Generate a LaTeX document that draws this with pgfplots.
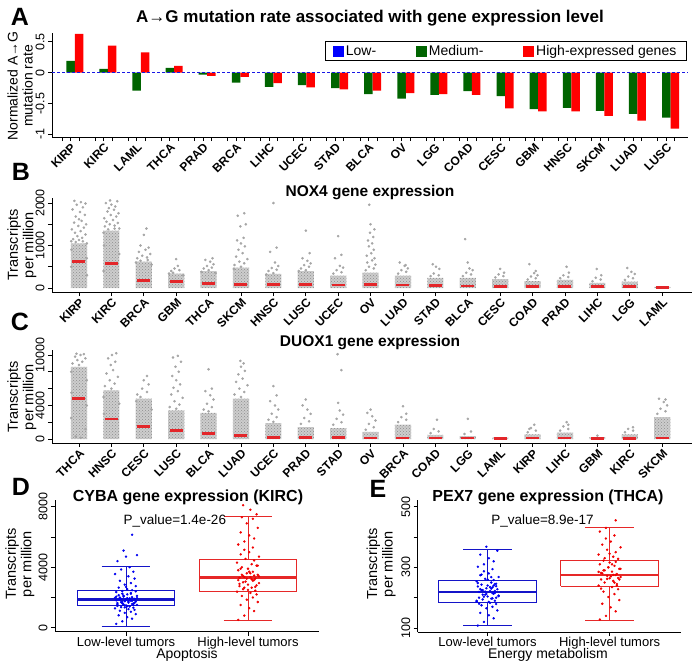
\documentclass[border=0pt]{standalone}
\usepackage{fontspec}
\setmainfont{Liberation Sans}
\usepackage{pgfplots}
\pgfplotsset{compat=1.18}
\usetikzlibrary{patterns}
\definecolor{dkgreen}{HTML}{006400}
\definecolor{barred}{HTML}{FF0000}
\definecolor{barblue}{HTML}{0000FF}
\definecolor{dotgray}{HTML}{A6A6A6}
\definecolor{bodygray}{HTML}{CDCDCD}
\definecolor{medred}{HTML}{E3262A}
\definecolor{boxblue}{HTML}{1414C8}
\definecolor{ptblue}{HTML}{0000F0}
\definecolor{boxred}{HTML}{E62828}
\definecolor{ptred}{HTML}{F00000}
\newcommand{\fs}[1]{\fontsize{#1}{#1}\selectfont}

\pgfplotsset{
  panel/.style={
    scale only axis, anchor=south west,
    axis x line*=bottom, axis y line*=left,
    axis line style={line width=0.8pt, black},
    tick align=outside, major tick length=4pt,
    tick style={line width=0.8pt, black},
    scaled y ticks=false,
    yticklabel style={rotate=90, anchor=south, font=\fs{12.5}},
  },
  catlabels/.style={
    xticklabel style={rotate=45, anchor=north east, font=\bfseries\fs{12}, inner sep=1pt},
  },
  cloud/.style={only marks, mark=*, mark size=1.1pt, color=dotgray},
  body/.style={ybar, bar width=0.5, bar shift=0pt, fill=bodygray, draw=none,
    postaction={pattern=crosshatch dots, pattern color=dotgray!85!black}},
  med/.style={only marks, mark=-, mark size=6.5pt, color=medred, mark options={line width=2.6pt}},
  boxline/.style={line width=0.8pt, no marks},
  medline/.style={line width=2.6pt, no marks},
}

\begin{document}
\begin{tikzpicture}
\path[use as bounding box] (0pt,0pt) rectangle (699pt,-664pt);

% ---------------- A ----------------
\node[font=\bfseries\fs{25}] at (20pt,-17pt) {A};
\node[font=\bfseries\fs{17}] at (370pt,-18pt) {A→G mutation rate associated with gene expression level};
\node[font=\fs{14}, rotate=90, align=center] at (20pt,-86pt) {Normalized A→G\\[1pt]mutation rate};
\begin{axis}[panel, catlabels,
  at={(52pt,-137pt)}, width=636pt, height=104pt,
  xmin=0.441, xmax=19.655, ymin=-1.044, ymax=0.644,
  ytick={-1,-0.5,0,0.5}, yticklabels={-1,-0.5,0,0.5},
  xtick={1,...,19},
  xticklabels={KIRP,KIRC,LAML,THCA,PRAD,BRCA,LIHC,UCEC,STAD,BLCA,OV,LGG,COAD,CESC,GBM,HNSC,SKCM,LUAD,LUSC},
  extra x ticks={0.743,1.257,1.743,2.257,2.743,3.257,3.743,4.257,4.743,5.257,5.743,6.257,6.743,7.257,7.743,8.257,8.743,9.257,9.743,10.257,10.743,11.257,11.743,12.257,12.743,13.257,13.743,14.257,14.743,15.257,15.743,16.257,16.743,17.257,17.743,18.257,18.743,19.257},
  extra x tick labels={},
  legend columns=3,
  legend style={at={(0.998,0.92)}, anchor=north east, draw=black, line width=0.8pt,
    font=\fs{14}, inner xsep=8pt, inner ysep=1.5pt,
    /tikz/every even column/.append style={column sep=38pt}},
]
\addlegendimage{legend image code/.code={\fill[barblue] (0pt,-5pt) rectangle (10pt,5pt);}}
\addlegendentry{Low-}
\addlegendimage{legend image code/.code={\fill[dkgreen] (0pt,-5pt) rectangle (10pt,5pt);}}
\addlegendentry{Medium-}
\addlegendimage{legend image code/.code={\fill[barred] (0pt,-5pt) rectangle (10pt,5pt);}}
\addlegendentry{High-expressed genes}
% medium-expressed genes
\addplot[ybar, bar width=0.257, bar shift=0pt, fill=dkgreen, draw=none, forget plot] coordinates {
 (1,0.19) (2,0.06) (3,-0.29) (4,0.08) (5,-0.03) (6,-0.16) (7,-0.23) (8,-0.20) (9,-0.25) (10,-0.35)
 (11,-0.42) (12,-0.36) (13,-0.30) (14,-0.38) (15,-0.59) (16,-0.57) (17,-0.62) (18,-0.67) (19,-0.73)};
% high-expressed genes
\addplot[ybar, bar width=0.257, bar shift=0pt, fill=barred, draw=none, forget plot] coordinates {
 (1.257,0.63) (2.257,0.44) (3.257,0.33) (4.257,0.11) (5.257,-0.05) (6.257,-0.07) (7.257,-0.17)
 (8.257,-0.24) (9.257,-0.27) (10.257,-0.29) (11.257,-0.33) (12.257,-0.35) (13.257,-0.36)
 (14.257,-0.58) (15.257,-0.63) (16.257,-0.63) (17.257,-0.70) (18.257,-0.78) (19.257,-0.91)};
% low-expressed genes (reference level, all zero)
\addplot[barblue!80!gray, line width=0.7pt, dash pattern=on 3pt off 2pt, forget plot] coordinates {(0.441,0) (19.655,0)};
\end{axis}

% ---------------- B ----------------
\node[font=\bfseries\fs{25}] at (21pt,-172pt) {B};
\node[font=\bfseries\fs{15.5}] at (370pt,-193pt) {NOX4 gene expression};
\node[font=\fs{14.5}, rotate=90, align=center] at (22pt,-245pt) {Transcripts\\[1pt]per million};
\begin{axis}[panel, catlabels,
  at={(52pt,-292pt)}, width=640pt, height=94pt,
  xmin=0.167, xmax=19.92, ymin=-94, ymax=2118,
  ytick={0,500,1000,1500,2000}, yticklabels={0,{},1000,{},2000},
  xtick={1,...,19},
  xticklabels={KIRP,KIRC,BRCA,GBM,THCA,SKCM,HNSC,LUSC,UCEC,OV,LUAD,STAD,BLCA,CESC,COAD,PRAD,LIHC,LGG,LAML},
]
\addplot[body] coordinates {(1,1050) (2,1350) (3,620) (4,340) (5,400) (6,480) (7,330) (8,400) (9,290) (10,360)
 (11,290) (12,240) (13,240) (14,210) (15,160) (16,190) (17,120) (18,150) (19,25)};
\addplot[cloud] coordinates {
 (0.82,1150) (1.1,1180) (0.95,1220) (1.2,1260) (0.88,1300) (1.05,1340) (0.78,1380) (1.15,1420) (0.98,1460)
 (1.22,1500) (0.85,1540) (1.08,1580) (1.0,1620) (0.9,1680) (1.18,1720) (1.03,1790) (0.8,1850) (1.12,1900)
 (0.93,1960) (1.06,2020) (0.86,2050) (1.2,1990) (0.76,1100) (1.24,1050) (0.77,900) (1.24,700) (0.76,500) (1.25,300)
 (0.9,1080) (1.12,1100) (1.0,1130)
 (1.8,1450) (2.1,1470) (1.95,1500) (2.2,1530) (1.85,1560) (2.05,1600) (1.78,1640) (2.15,1680) (1.98,1720)
 (2.22,1760) (1.88,1800) (2.08,1840) (1.92,1880) (2.12,1920) (2.0,1960) (1.83,2000) (2.18,2040) (1.96,2060)
 (2.24,1400) (1.76,1300) (1.77,1000) (2.24,800) (1.76,400) (1.9,1380) (2.1,1400)
 (2.8,700) (3.1,720) (2.95,760) (3.2,800) (2.85,850) (3.05,900) (3.15,950) (2.9,1000) (3.0,1250) (3.08,1400) (2.76,600) (3.24,550)
 (2.9,640) (3.12,660)
 (3.85,400) (4.1,420) (3.95,460) (4.05,520) (4.0,680) (3.78,340) (4.22,300) (3.9,360)
 (4.85,460) (5.1,480) (4.95,520) (5.15,560) (5.05,620) (4.9,660) (5.12,700) (4.78,380) (5.22,350) (5.0,420)
 (5.8,540) (6.1,580) (5.95,620) (6.2,680) (5.85,740) (6.05,820) (5.92,900) (6.12,980) (6.0,1050) (5.88,1120)
 (6.08,1180) (5.98,1450) (6.15,1500) (5.9,1700) (6.1,1760) (5.78,450) (6.0,500)
 (6.85,400) (7.1,430) (6.95,470) (7.15,520) (7.05,600) (6.9,850) (7.1,950) (7.0,2000) (6.78,320) (7.0,350)
 (7.85,460) (8.1,500) (7.95,540) (8.15,580) (8.05,640) (7.9,700) (8.12,820) (8.0,1350) (7.78,400) (8.0,420)
 (8.85,340) (9.1,370) (8.95,420) (9.15,480) (9.05,520) (8.9,700) (9.1,780) (9.0,1220)
 (9.85,420) (10.1,460) (9.95,500) (10.15,550) (9.9,600) (10.05,650) (10.12,700) (9.88,760) (10.02,820)
 (10.1,900) (9.95,980) (10.05,1050) (9.92,1120) (10.08,1200) (9.98,1300) (10.12,1380) (10.0,1500) (9.96,1960)
 (10.85,340) (11.1,380) (10.95,420) (11.15,460) (11.05,520) (10.9,600) (11.08,540)
 (11.85,280) (12.1,300) (11.95,340) (12.12,450) (12.02,500) (11.92,560)
 (12.85,280) (13.1,320) (12.95,360) (13.15,420) (13.05,460) (13.0,600) (12.92,1150)
 (13.85,250) (14.1,280) (13.95,320) (14.12,360) (14.0,450)
 (14.85,200) (15.1,230) (14.95,270) (15.15,300) (15.05,350) (15.1,400) (14.9,560)
 (15.85,230) (16.1,260) (15.95,300) (16.12,360) (16.05,500)
 (16.85,160) (17.1,200) (16.95,240) (17.12,300) (16.98,450)
 (17.85,190) (18.1,230) (17.95,270) (18.15,330) (18.05,380) (17.92,470)};
\addplot[med] coordinates {(1,630) (2,570) (3,172) (4,148) (5,110) (6,86) (7,80) (8,85) (9,75) (10,80)
 (11,70) (12,55) (13,45) (14,40) (15,35) (16,35) (17,30) (18,35) (19,5)};
\end{axis}

% ---------------- C ----------------
\node[font=\bfseries\fs{25}] at (20pt,-322pt) {C};
\node[font=\bfseries\fs{15.5}] at (370pt,-343pt) {DUOX1 gene expression};
\node[font=\fs{14.5}, rotate=90, align=center] at (22pt,-397pt) {Transcripts\\[1pt]per million};
\begin{axis}[panel, catlabels,
  at={(52pt,-443pt)}, width=640pt, height=93pt,
  xmin=0.167, xmax=19.92, ymin=-476, ymax=10595,
  ytick={0,2000,4000,6000,8000,10000}, yticklabels={0,{},4000,{},{},10000},
  xtick={1,...,19},
  xticklabels={THCA,HNSC,CESC,LUSC,BLCA,LUAD,UCEC,PRAD,STAD,OV,BRCA,COAD,LGG,LAML,KIRP,LIHC,GBM,KIRC,SKCM},
]
\addplot[body] coordinates {(1,8600) (2,5800) (3,4800) (4,3400) (5,3100) (6,4800) (7,1900) (8,1400) (9,1300) (10,850)
 (11,1700) (12,480) (13,330) (14,150) (15,560) (16,750) (17,200) (18,560) (19,2600)};
\addplot[cloud] coordinates {
 (0.8,9000) (1.1,9200) (0.95,9400) (1.2,9600) (0.88,9800) (1.05,10000) (1.15,10100) (0.92,10150)
 (0.76,8000) (1.24,7000) (0.77,5500) (1.24,4000) (0.76,2500) (1.2,1200) (0.9,300) (1.05,150) (1.0,8800)
 (1.8,6300) (2.1,6600) (1.95,7000) (2.2,7400) (1.85,7800) (2.05,8200) (1.98,8800) (2.12,9200) (1.9,9600) (2.02,10000) (2.15,10200)
 (1.76,5000) (2.24,4200) (1.77,3000) (2.0,6000)
 (2.8,5300) (3.1,5600) (2.95,6000) (3.15,6500) (3.0,7000) (3.1,7500) (2.77,4500) (3.24,3500) (2.9,5000)
 (3.8,3800) (4.1,4100) (3.95,4500) (4.2,4900) (3.85,5300) (4.05,5700) (3.92,6100) (4.12,6500) (4.0,7000)
 (3.88,7500) (4.08,8000) (3.98,8600) (4.15,9200) (3.9,9700) (4.05,9900) (4.0,3600)
 (4.85,3500) (5.1,3800) (4.95,4200) (5.15,4700) (5.05,5200) (4.9,5700) (5.1,6000) (5.0,8300) (5.0,3300)
 (5.8,5300) (6.1,5600) (5.95,6000) (6.2,6400) (5.85,6800) (6.05,7200) (5.92,7700) (6.12,8100) (6.0,8600) (6.08,9000) (5.98,9300)
 (6.0,5000)
 (6.85,2300) (7.1,2600) (6.95,3000) (7.15,3500) (7.05,4000) (6.9,4500) (7.1,5200) (7.0,6300) (7.0,2050)
 (7.85,1800) (8.1,2100) (7.95,2500) (8.15,3000) (8.05,3500) (7.9,4000) (8.0,4700)
 (8.85,1700) (9.1,2000) (8.95,2400) (9.15,2900) (9.05,3400) (9.0,4300) (9.1,8200) (8.98,10100)
 (9.85,1100) (10.1,1400) (9.95,1800) (10.15,2200) (10.05,2700) (9.9,3100) (10.0,3500)
 (10.85,2000) (11.1,2300) (10.95,2600) (11.1,3000) (11.0,3900)
 (11.85,700) (12.1,900) (11.95,1200) (12.05,2300)
 (12.9,600) (13.1,900) (13.0,2400)
 (14.85,800) (15.1,1000) (14.95,1300) (15.05,1700) (14.9,1200)
 (15.85,1000) (16.1,1200) (15.95,1500) (16.05,2000) (16.1,1700)
 (17.0,400)
 (17.85,800) (18.1,1000) (17.95,1200) (18.1,1400)
 (18.85,3000) (19.1,3300) (18.95,3600) (19.15,4000) (19.05,4400) (18.9,4800) (19.1,4700)};
\addplot[med] coordinates {(1,4800) (2,2400) (3,1500) (4,1000) (5,650) (6,400) (7,200) (8,150) (9,150) (10,130)
 (11,120) (12,100) (13,100) (14,60) (15,100) (16,100) (17,80) (18,80) (19,120)};
\end{axis}

% ---------------- D ----------------
\node[font=\bfseries\fs{25}] at (21pt,-487pt) {D};
\node[font=\bfseries\fs{16}] at (188pt,-497pt) {CYBA gene expression (KIRC)};
\node[font=\fs{14.5}, rotate=90, align=center] at (20pt,-564pt) {Transcripts\\[1pt]per million};
\node[font=\fs{14}] at (187pt,-655pt) {Apoptosis};
\begin{axis}[panel,
  at={(55pt,-631.7pt)}, width=264pt, height=131.7pt,
  xmin=0.418, xmax=2.582, ymin=-264, ymax=8443,
  ytick={0,2000,4000,6000,8000}, yticklabels={0,{},4000,{},8000},
  xtick={1,2}, xticklabels={Low-level tumors,High-level tumors},
  xticklabel style={font=\fs{13}, inner sep=1pt},
]
% low-level box: whiskers 66 / 4080, quartiles 1455 / 2490, median 1850
\addplot[boxline, boxblue] coordinates {(0.6,1455) (1.4,1455) (1.4,2490) (0.6,2490) (0.6,1455)};
\addplot[boxline, boxblue] coordinates {(1,2490) (1,4080)};
\addplot[boxline, boxblue] coordinates {(1,1455) (1,66)};
\addplot[boxline, boxblue] coordinates {(0.8,4080) (1.2,4080)};
\addplot[boxline, boxblue] coordinates {(0.8,66) (1.2,66)};
% high-level box: whiskers 490 / 7380, quartiles 2425 / 4520, median 3305
\addplot[boxline, boxred] coordinates {(1.6,2425) (2.4,2425) (2.4,4520) (1.6,4520) (1.6,2425)};
\addplot[boxline, boxred] coordinates {(2,4520) (2,7380)};
\addplot[boxline, boxred] coordinates {(2,2425) (2,490)};
\addplot[boxline, boxred] coordinates {(1.8,7380) (2.2,7380)};
\addplot[boxline, boxred] coordinates {(1.8,490) (2.2,490)};
\addplot[only marks, mark=*, mark size=1pt, color=ptblue] coordinates {
 (0.92,250) (0.97,420) (1.05,600) (1.01,700) (0.94,820) (1.08,900) (0.99,980) (1.04,1050) (0.95,1120) (1.07,1180)
 (1.02,1230) (0.91,1280) (1.06,1320) (0.96,1360) (1.03,1400) (0.93,1440) (1.00,1480) (1.09,1510) (0.98,1540) (1.05,1570)
 (1.06,1600) (0.93,1630) (1.02,1660) (0.96,1690) (1.08,1720) (0.99,1750) (1.04,1780) (0.92,1810) (1.00,1840) (0.95,1870)
 (1.07,1900) (1.03,1940) (0.91,1980) (1.05,2020) (0.98,2060) (1.09,2100) (0.94,2150) (1.01,2200) (0.97,2250) (1.04,2300)
 (0.92,2360) (0.97,2420) (1.05,2480) (1.01,2550) (0.94,2650) (1.08,2750) (0.99,2850) (1.04,2950) (0.95,3100) (1.07,3250)
 (1.02,3400) (0.91,3550) (1.06,3700) (0.96,3850) (1.03,4000) (0.93,4400) (1.00,4700) (1.09,4800) (0.98,5100) (1.05,6150)
 (0.97,1700) (1.03,1820) (0.95,2000) (1.06,1500) (1.01,1950) (0.93,1550) (1.08,2400) (0.99,1350) (1.04,2250) (0.96,1900)
 (1.02,1750) (0.94,1880) (1.07,1640) (0.98,2120) (1.01,1420) (0.92,2050) (1.05,1780) (0.97,1600) (1.09,1950) (1.0,2700)};
\addplot[only marks, mark=*, mark size=1pt, color=ptred] coordinates {
 (1.92,520) (1.97,800) (2.05,1100) (2.01,1300) (1.94,1500) (2.08,1700) (1.99,1850) (2.04,2000) (1.95,2100) (2.07,2200)
 (2.02,2300) (1.91,2380) (2.06,2450) (1.96,2550) (2.03,2650) (1.93,2750) (2.00,2850) (2.09,2950) (1.98,3050) (2.05,3150)
 (2.06,3250) (1.93,3300) (2.02,3350) (1.96,3420) (2.08,3500) (1.99,3600) (2.04,3700) (1.92,3800) (2.00,3900) (1.95,4000)
 (2.07,4100) (2.03,4200) (1.91,4300) (2.05,4450) (1.98,4550) (2.09,4700) (1.94,4850) (2.01,5000) (1.97,5150) (2.04,5300)
 (1.92,5500) (1.97,5700) (2.05,5900) (2.01,6100) (1.94,6300) (2.08,6600) (1.99,6900) (2.04,7200) (1.95,7300) (2.07,7500)
 (2.02,7800) (1.96,8100)
 (2.03,3200) (1.97,3350) (2.06,2700) (1.94,3900) (2.00,2500) (2.08,4100) (1.96,3000) (2.02,3600) (1.93,2900) (2.05,3450)
 (1.99,3250) (2.04,3100) (1.95,3500) (2.07,2800) (2.01,3700) (1.92,3150) (2.09,3400) (1.97,2650)};
\addplot[medline, boxblue] coordinates {(0.6,1850) (1.4,1850)};
\addplot[medline, boxred] coordinates {(1.6,3305) (2.4,3305)};
\node[font=\fs{13.5}] at (axis cs:1.4,7070) {P\_value=1.4e-26};
\end{axis}

% ---------------- E ----------------
\node[font=\bfseries\fs{25}] at (378pt,-489pt) {E};
\node[font=\bfseries\fs{16}] at (548pt,-497pt) {PEX7 gene expression (THCA)};
\node[font=\fs{14.5}, rotate=90, align=center] at (381pt,-564pt) {Transcripts\\[1pt]per million};
\node[font=\fs{14}] at (548pt,-655pt) {Energy metabolism};
\begin{axis}[panel,
  at={(417.7pt,-632pt)}, width=263pt, height=132pt,
  xmin=0.427, xmax=2.583, ymin=86.8, ymax=522,
  ytick={100,200,300,400,500}, yticklabels={100,{},300,{},500},
  xtick={1,2}, xticklabels={Low-level tumors,High-level tumors},
  xticklabel style={font=\fs{13}, inner sep=1pt},
]
% low-level box: whiskers 110 / 359, quartiles 183 / 257, median 219
\addplot[boxline, boxblue] coordinates {(0.6,183) (1.4,183) (1.4,257) (0.6,257) (0.6,183)};
\addplot[boxline, boxblue] coordinates {(1,257) (1,359)};
\addplot[boxline, boxblue] coordinates {(1,183) (1,110)};
\addplot[boxline, boxblue] coordinates {(0.8,359) (1.2,359)};
\addplot[boxline, boxblue] coordinates {(0.8,110) (1.2,110)};
% high-level box: whiskers 124 / 433, quartiles 237 / 324, median 275
\addplot[boxline, boxred] coordinates {(1.6,237) (2.4,237) (2.4,324) (1.6,324) (1.6,237)};
\addplot[boxline, boxred] coordinates {(2,324) (2,433)};
\addplot[boxline, boxred] coordinates {(2,237) (2,124)};
\addplot[boxline, boxred] coordinates {(1.8,433) (2.2,433)};
\addplot[boxline, boxred] coordinates {(1.8,124) (2.2,124)};
\addplot[only marks, mark=*, mark size=1pt, color=ptblue] coordinates {
 (0.92,108) (0.97,120) (1.05,132) (1.01,142) (0.94,150) (1.08,158) (0.99,165) (1.04,170) (0.95,175) (1.07,179)
 (1.02,183) (0.91,187) (1.06,190) (0.96,194) (1.03,197) (0.93,200) (1.00,204) (1.09,207) (0.98,210) (1.05,213)
 (1.06,216) (0.93,219) (1.02,222) (0.96,225) (1.08,228) (0.99,231) (1.04,234) (0.92,237) (1.00,240) (0.95,243)
 (1.07,246) (1.03,250) (0.91,254) (1.05,258) (0.98,262) (1.09,268) (0.94,274) (1.01,280) (0.97,287) (1.04,294)
 (0.92,302) (0.97,310) (1.05,320) (1.01,330) (0.94,342) (1.08,355) (0.99,368) (1.04,215) (0.95,225) (1.07,200)
 (1.02,235) (0.91,190) (1.06,245) (0.96,210) (1.03,230) (0.93,180) (1.00,260) (1.09,205) (0.98,220) (1.05,240)
 (0.99,212) (1.04,198) (0.94,228) (1.07,238) (1.01,186) (0.92,248) (1.06,222) (0.97,203) (1.03,268) (0.95,276)};
\addplot[only marks, mark=*, mark size=1pt, color=ptred] coordinates {
 (1.92,128) (1.97,140) (2.05,155) (2.01,168) (1.94,180) (2.08,192) (1.99,202) (2.04,212) (1.95,220) (2.07,228)
 (2.02,235) (1.91,240) (2.06,245) (1.96,250) (2.03,255) (1.93,260) (2.00,264) (2.09,268) (1.98,272) (2.05,275)
 (2.06,278) (1.93,282) (2.02,286) (1.96,290) (2.08,295) (1.99,300) (2.04,305) (1.92,310) (2.00,316) (1.95,322)
 (2.07,328) (2.03,335) (1.91,342) (2.05,350) (1.98,358) (2.09,366) (1.94,375) (2.01,385) (1.97,395) (2.04,405)
 (1.92,418) (1.97,430) (2.05,455) (2.01,270) (1.94,280) (2.08,260) (1.99,300) (2.04,250) (1.95,290) (2.07,265)
 (2.02,310) (1.91,285) (2.06,240) (1.96,330) (2.03,275) (1.93,230) (2.00,345) (2.09,295) (1.98,262) (2.05,318)};
\addplot[medline, boxblue] coordinates {(0.6,219) (1.4,219)};
\addplot[medline, boxred] coordinates {(1.6,275) (2.4,275)};
\node[font=\fs{13.5}] at (axis cs:1.45,453) {P\_value=8.9e-17};
\end{axis}
\end{tikzpicture}
\end{document}
